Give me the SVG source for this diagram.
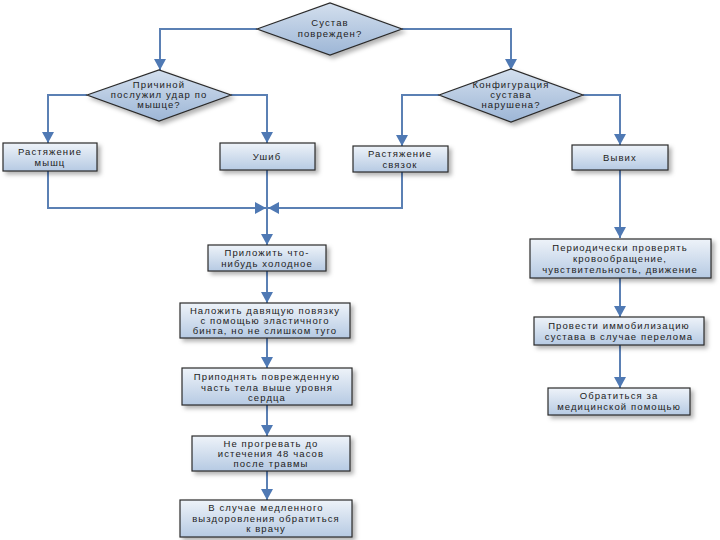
<svg xmlns="http://www.w3.org/2000/svg" width="720" height="540" viewBox="0 0 720 540">
<defs>
<linearGradient id="gb" x1="0" y1="0" x2="0" y2="1"><stop offset="0" stop-color="#eef3f9"/><stop offset="1" stop-color="#b6cae3"/></linearGradient>
<linearGradient id="gd" x1="0" y1="0" x2="0" y2="1"><stop offset="0" stop-color="#d3dfee"/><stop offset="1" stop-color="#9db6d6"/></linearGradient>
<filter id="sh" x="-10%" y="-20%" width="130%" height="160%"><feDropShadow dx="3" dy="3" stdDeviation="2" flood-color="#000" flood-opacity="0.3"/></filter>
<marker id="ar" markerUnits="userSpaceOnUse" markerWidth="12" markerHeight="12" viewBox="0 0 12 12" refX="11" refY="6" orient="auto"><path d="M0,0 L11,6 L0,12 z" fill="#4f79b4"/></marker>
</defs>
<style>
.box{fill:url(#gb);stroke:#2b2b2b;stroke-width:1.2;filter:url(#sh)}
.dia{fill:url(#gd);stroke:#2b2b2b;stroke-width:1.2;filter:url(#sh)}
.ln{fill:none;stroke:#5b80b4;stroke-width:2;marker-end:url(#ar)}
text{font-family:"Liberation Sans",Arial,sans-serif;font-size:9.5px;fill:#222;text-anchor:middle;letter-spacing:1.1px}
</style>
<rect width="720" height="540" fill="#fff"/>
<g id="connectors">
<path class="ln" d="M257,29 H160 V70"/>
<path class="ln" d="M402,29 H511 V70"/>
<path class="ln" d="M87,95 H48 V143"/>
<path class="ln" d="M231,95 H267 V143"/>
<path class="ln" d="M439,95 H402 V146"/>
<path class="ln" d="M583,95 H620 V145"/>
<path class="ln" d="M48,171 V208 H266"/>
<path class="ln" d="M402,172 V208 H268"/>
<path class="ln" d="M267,170 V245"/>
<path class="ln" d="M267,271 V303"/>
<path class="ln" d="M267,338 V368"/>
<path class="ln" d="M267,405 V436"/>
<path class="ln" d="M267,471 V500"/>
<path class="ln" d="M620,170 V238"/>
<path class="ln" d="M620,278 V317"/>
<path class="ln" d="M620,345 V388"/>
</g>
<g id="d1"><polygon class="dia" points="257,29 330,3 402,29 330,55"/><text x="330" y="26">Сустав</text><text x="330" y="37">поврежден?</text></g>
<g id="d2"><polygon class="dia" points="87,95 159,70 231,95 159,121"/><text x="159" y="88">Причиной</text><text x="159" y="98">послужил удар по</text><text x="159" y="108">мышце?</text></g>
<g id="d3"><polygon class="dia" points="439,95 511,69 583,95 511,122"/><text x="511" y="88">Конфигурация</text><text x="511" y="98">сустава</text><text x="511" y="108">нарушена?</text></g>
<g id="b1"><rect class="box" x="3" y="143" width="94" height="28"/><text x="50" y="155">Растяжение</text><text x="50" y="166">мышц</text></g>
<g id="b2"><rect class="box" x="220" y="143" width="95" height="27"/><text x="267" y="160">Ушиб</text></g>
<g id="b3"><rect class="box" x="353" y="146" width="95" height="26"/><text x="400" y="157">Растяжение</text><text x="400" y="168">связок</text></g>
<g id="b4"><rect class="box" x="572" y="145" width="96" height="25"/><text x="620" y="161">Вывих</text></g>
<g id="b5"><rect class="box" x="208" y="245" width="118" height="26"/><text x="267" y="256">Приложить что-</text><text x="267" y="267">нибудь холодное</text></g>
<g id="b6"><rect class="box" x="180" y="303" width="170" height="35"/><text x="265" y="314">Наложить давящую повязку</text><text x="265" y="324">с помощью эластичного</text><text x="265" y="334">бинта, но не слишком туго</text></g>
<g id="b7"><rect class="box" x="182" y="368" width="170" height="37"/><text x="267" y="380">Приподнять поврежденную</text><text x="267" y="391">часть тела выше уровня</text><text x="267" y="401">сердца</text></g>
<g id="b8"><rect class="box" x="192" y="436" width="158" height="35"/><text x="271" y="447">Не прогревать до</text><text x="271" y="457">истечения 48 часов</text><text x="271" y="467">после травмы</text></g>
<g id="b9"><rect class="box" x="180" y="500" width="172" height="37"/><text x="266" y="511">В случае медленного</text><text x="266" y="522">выздоровления обратиться</text><text x="266" y="532">к врачу</text></g>
<g id="b10"><rect class="box" x="530" y="239" width="181" height="39"/><text x="620" y="251">Периодически проверять</text><text x="620" y="262">кровообращение,</text><text x="620" y="273">чувствительность, движение</text></g>
<g id="b11"><rect class="box" x="534" y="317" width="170" height="28"/><text x="619" y="329">Провести иммобилизацию</text><text x="619" y="340">сустава в случае перелома</text></g>
<g id="b12"><rect class="box" x="548" y="388" width="142" height="27"/><text x="619" y="399">Обратиться за</text><text x="619" y="410">медицинской помощью</text></g>
</svg>
